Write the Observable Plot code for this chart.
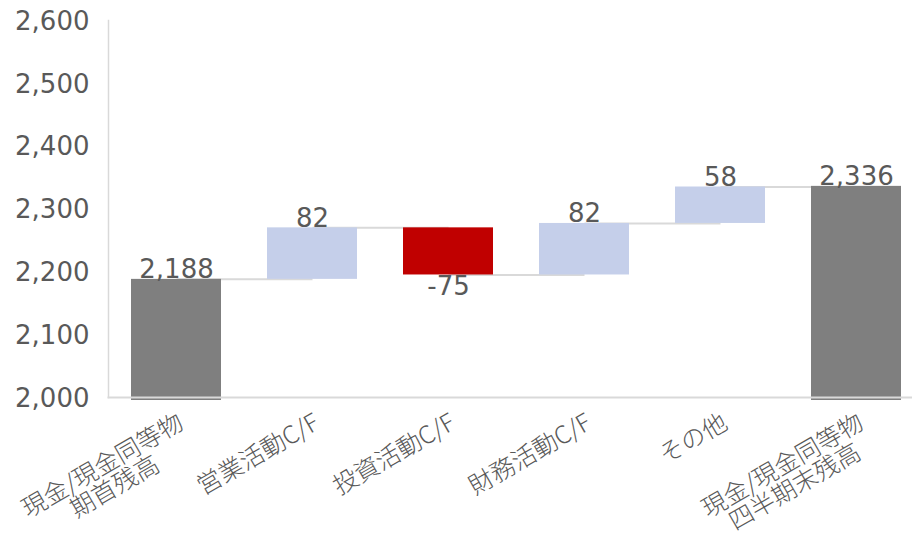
<!DOCTYPE html>
<html>
<head>
<meta charset="utf-8">
<script src="https://cdn.jsdelivr.net/npm/d3@7"></script>
<script src="https://cdn.jsdelivr.net/npm/@observablehq/plot@0.6"></script>
<style>
  html, body { margin: 0; padding: 0; background: #fff; }
  #chart { width: 912px; height: 535px; overflow: hidden; }
</style>
</head>
<body>
<div id="chart"></div>
<script>
const categories = ["現金/現金同等物\n期首残高", "営業活動C/F", "投資活動C/F", "財務活動C/F", "その他", "現金/現金同等物\n四半期末残高"];
const values = [2188, 82, -75, 82, 58, 2336];
const kinds = ["total", "delta", "delta", "delta", "delta", "total"];
const yTicks = [2000, 2100, 2200, 2300, 2400, 2500, 2600];
const yDomain = [2000, 2600];

const colors = {total: "#7f7f7f", up: "#c5cfea", down: "#c00000"};
const textColor = "#595959";
const gridColor = "#d9d9d9";

// build waterfall rows
let running = 0;
const rows = categories.map((c, i) => {
  const v = values[i];
  let y1, y2, type;
  if (kinds[i] === "total") {
    y1 = yDomain[0]; y2 = v; running = v; type = "total";
  } else {
    y1 = running; y2 = running + v; running = y2; type = v >= 0 ? "up" : "down";
  }
  return {cat: c, value: v, y1, y2, end: kinds[i] === "total" ? v : y2, type, color: colors[type]};
});
const links = rows.slice(0, -1).map((r, i) => ({a: r.cat, b: rows[i + 1].cat, level: r.end}));

const numFont = "DejaVu Sans";
const fmt = d3.formatLocale({decimal: ".", thousands: ",", grouping: [3], currency: ["", ""], minus: "-"}).format(",");

const plot = Plot.plot({
  width: 912,
  height: 535,
  marginLeft: 108,
  marginRight: 0,
  marginTop: 20,
  marginBottom: 138,
  style: {fontFamily: numFont, color: textColor, background: "#fff", overflow: "visible"},
  x: {domain: categories, range: [108, 924], paddingInner: 0.34, paddingOuter: 0.17, axis: null},
  y: {domain: yDomain, ticks: yTicks, axis: null},
  marks: [
    Plot.link(links, {x1: "a", x2: "b", y1: "level", y2: "level", stroke: gridColor, strokeWidth: 2}),
    Plot.barY(rows, {x: "cat", y1: "y1", y2: "y2", fill: "color"}),
    Plot.barY(rows.filter(d => d.type === "total"), {x: "cat", y1: "y1", y2: "y1", fill: colors.total, insetBottom: -3}),
    Plot.frame({anchor: "left", stroke: gridColor, strokeWidth: 1.5}),
    Plot.frame({anchor: "bottom", stroke: gridColor, strokeWidth: 2}),
    Plot.axisY({ticks: yTicks, tickSize: 0, tickPadding: 19, tickFormat: fmt, fontSize: 26, fill: textColor, fontFamily: numFont, dy: 1}),
    Plot.text(rows.filter(d => d.value >= 0), {x: "cat", y: d => Math.max(d.y1, d.y2), text: d => fmt(d.value), lineAnchor: "bottom", dy: -1, fontSize: 26, fill: textColor, fontFamily: numFont}),
    Plot.text(rows.filter(d => d.value < 0), {x: "cat", y: d => Math.min(d.y1, d.y2), text: d => fmt(d.value), lineAnchor: "top", dy: 2, fontSize: 26, fill: textColor, fontFamily: numFont}),
    Plot.text(categories, {x: d => d, frameAnchor: "bottom", text: d => d, rotate: -30, textAnchor: "end", lineAnchor: "top", lineHeight: 1.0, dy: 15, dx: 0, fontSize: 24.5, fontWeight: 300, fill: textColor, fontFamily: "Noto Sans CJK JP", className: "xlab"})
  ]
});
document.getElementById("chart").appendChild(plot);

// center the second line of two-line category labels under the first
plot.querySelectorAll(".xlab text").forEach(t => {
  const sp = t.querySelectorAll("tspan");
  if (sp.length === 2) {
    const l0 = sp[0].getComputedTextLength();
    const l1 = sp[1].getComputedTextLength();
    sp[1].setAttribute("x", -(l0 - l1) / 2);
  }
});
</script>
</body>
</html>
